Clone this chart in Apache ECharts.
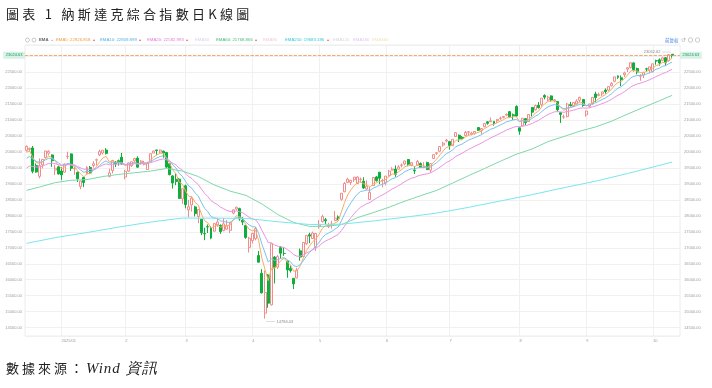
<!DOCTYPE html>
<html><head><meta charset="utf-8">
<script src="https://cdn.jsdelivr.net/npm/echarts@6/dist/echarts.min.js"></script>
<style>
html,body{margin:0;padding:0;background:#fff;}
#wrap{position:relative;width:712px;height:388px;overflow:hidden;background:#fff;}
#chart{position:absolute;left:0;top:0;width:712px;height:388px;}
.t{position:absolute;font-family:"Noto Sans CJK TC","Noto Sans CJK SC",serif;color:#222;white-space:nowrap;line-height:16px;}
#title{left:6px;top:6px;font-size:13px;letter-spacing:3.3px;}
#src{left:6px;top:360px;font-size:13px;letter-spacing:3px;}
#src i{font-family:"Liberation Serif","DejaVu Serif",serif;font-size:15px;letter-spacing:1px;}
</style></head>
<body><div id="wrap"><div id="chart"></div>
<div class="t" id="title">圖表 1 納斯達克綜合指數日K線圖</div>
<div class="t" id="src">數據來源：<i>Wind 資訊</i></div>
</div>
<script>
// ---- trading days (categories) ----
const tradingDays = {
 '2024/12': [16,17,18,19,20,23,24,26,27,30,31],
 '2025/01': [2,3,6,7,8,10,13,14,15,16,17,21,22,23,24,27,28,29,30,31],
 '2025/02': [3,4,5,6,7,10,11,12,13,14,18,19,20,21,24,25,26,27,28],
 '2025/03': [3,4,5,6,7,10,11,12,13,14,17,18,19,20,21,24,25,26,27,28,31],
 '2025/04': [1,2,3,4,7,8,9,10,11,14,15,16,17,21,22,23,24,25,28,29,30],
 '2025/05': [1,2,5,6,7,8,9,12,13,14,15,16,19,20,21,22,23,27,28,29,30],
 '2025/06': [2,3,4,5,6,9,10,11,12,13,16,17,18,20,23,24,25,26,27,30],
 '2025/07': [1,2,3,7,8,9,10,11,14,15,16,17,18,21,22,23,24,25,28,29,30,31],
 '2025/08': [1,4,5,6,7,8,11,12,13,14,15,18,19,20,21,22,25,26,27,28,29],
 '2025/09': [2,3,4,5,8,9,10,11,12,15,16,17,18,19,22,23,24,25,26,29,30],
 '2025/10': [1,2,3,6,7,8,9]
};
const xTickDates = ['2025/01/02','2025/02/03','2025/03/03','2025/04/01','2025/05/01','2025/06/02','2025/07/01','2025/08/01','2025/09/02','2025/10/01'];
const xTickLabels = ['2025/01','2','3','4','5','6','7','8','9','10'];
const padSlots = [' ', '  '];

// ---- OHLC ----
const openVals = [
 20047,20080,20125,19573,19235,19592,19821,19960,19905,19431,19533,
 19403,19367,19851,19938,19469,19361,18920,19201,19309,19513,19574,19741,19906,19967,20058,19234,19418,19680,19725,19832,
 19215,19398,19568,19720,19806,19651,19614,19450,19702,19963,20062,19992,20023,19983,19631,19248,19145,19148,18530,
 18938,18186,18340,18279,17980,17896,17450,17662,17622,17519,17716,17702,17536,17581,17547,18085,18212,18226,17863,17695,17013,
 17222,17286,16757,16202,14954,16146,15214,16711,16396,17004,16824,16579,16353,16044,16057,16904,16726,17124,17409,17291,17041,
 17661,17817,17880,17660,17738,17856,17964,18516,18752,19047,19044,19128,19009,19142,19084,18841,18513,18947,19217,19365,19107,
 19029,19260,19430,19462,19460,19580,19623,19761,19577,19425,19586,19636,19535,19668,19430,19796,19957,20020,20215,20343,
 20323,20194,20483,20520,20455,20510,20615,20550,20582,20763,20678,20787,20942,20946,20955,20981,21047,21082,21152,21260,21160,21423,
 20754,20813,21040,20946,21389,21317,21460,21475,21764,21627,21753,21597,21575,21228,21090,21105,21478,21442,21501,21620,21640,
 21162,21426,21518,21813,21767,21818,21935,21931,22068,22209,22377,22319,22418,22588,22640,22785,22609,22368,22405,22598,22557,
 22505,22854,22880,22867,22948,22856,23055
];
const closeVals = [
 20173.89,20109.06,19392.69,19372.77,19572.60,19764.89,20031.13,20020.36,19722.03,19486.79,19310.79,
 19280.79,19621.68,19864.98,19489.68,19478.88,19161.63,19088.10,19044.39,19511.23,19338.29,19630.20,19756.78,20009.34,20053.68,19954.30,19341.83,19733.59,19632.32,19681.75,19627.44,
 19391.96,19654.02,19692.33,19791.99,19523.40,19714.27,19643.86,19649.95,19945.64,20026.77,20041.26,20056.25,19962.36,19524.01,19286.93,19026.39,19075.26,18544.42,18847.28,
 18350.19,18285.16,18552.73,18069.26,18196.22,17468.32,17436.10,17648.45,17303.01,17754.09,17808.66,17504.12,17750.79,17691.63,17784.05,18188.59,18271.86,17899.01,17804.03,17322.99,17299.29,
 17449.89,17601.05,16550.61,15587.79,15603.26,15267.91,17124.97,16387.31,16724.46,16831.48,16823.17,16307.16,16286.45,15870.90,16300.42,16708.05,17166.04,17382.94,17366.13,17461.32,17446.34,
 17710.74,17977.73,17844.24,17689.66,17738.16,17928.14,17928.92,18708.34,19010.09,19146.81,19112.32,19211.10,19215.46,19142.71,18872.64,18925.74,18737.21,19199.16,19100.94,19175.87,19113.77,
 19242.61,19398.96,19460.49,19298.45,19529.95,19591.24,19714.99,19615.88,19662.49,19406.83,19701.21,19521.09,19546.27,19447.41,19630.97,19912.53,19973.55,20167.91,20273.46,20369.73,
 20202.89,20393.13,20601.10,20412.52,20418.46,20611.34,20630.67,20585.53,20640.33,20677.80,20730.49,20885.65,20895.66,20974.17,20892.69,21020.02,21057.96,21108.32,21178.58,21098.29,21129.67,21122.45,
 20650.13,21053.58,20916.55,21169.42,21242.70,21450.02,21385.40,21681.90,21713.14,21710.67,21622.98,21629.77,21314.95,21172.86,21100.31,21496.54,21449.29,21544.27,21590.14,21705.16,21455.55,
 21279.63,21497.73,21707.69,21700.39,21798.70,21879.49,21886.06,22043.07,22141.10,22348.75,22333.96,22261.33,22470.73,22631.48,22788.98,22573.47,22497.86,22384.70,22484.07,22591.15,22660.01,
 22755.16,22844.05,22780.51,22941.67,22788.36,23043.38,23024.63
];
const lowVals = [
 20010,20010,19330,19350,19172,19480,19797,19892,19535,19275,19285,
 19117,19356,19780,19403,19280,19058,18831,18900,19300,19302,19510,19575,19868,19920,19919,19205,19326,19525,19570,19593,
 19141,19373,19528,19673,19507,19602,19579,19442,19680,19962,19908,19950,19817,19493,19270,18853,18960,18541,18372,
 18234,17956,18133,17983,17768,17398,17238,17462,17268,17505,17658,17435,17518,17568,17461,18045,18173,17847,17711,17282,16854,
 17137,17232,16542,15575,14784.03,15124,15196,15883,16341,16660,16749,16062,16225,15708,16046,16596,16719,17089,17143,17275,16903,
 17599,17791,17745,17615,17600,17833,17858,18471,18740,19020,18966,19059,19002,19036,18843,18816,18493,18936,19070,18990,18892,
 18954,19226,19417,19220,19448,19516,19577,19564,19551,19308,19580,19506,19490,19431,19346,19779,19905,19988,20170,20294,
 20071,20184,20478,20309,20366,20491,20508,20517,20539,20656,20543,20770,20850,20930,20820,20905,21000,21050,21120,21072,21000,21099,
 20540,20808,20839,20935,21106,21294,21353,21419,21645,21589,21573,21553,21267,20906,21033,21079,21421,21402,21481,21558,21410,
 21102,21385,21467,21552,21741,21747,21822,21894,22045,22176,22283,22059,22345,22500,22611,22514,22427,22226,22313,22517,22459,
 22482,22728,22698,22836,22698,22820,22948
];
const highVals = [
 20204,20135,20184,19640,19798,19782,20031,20053,19922,19596,19553,
 19517,19638,20007,19951,19525,19383,19095,19210,19557,19560,19709,19789,20068,20054,20118,19470,19751,19716,19760,19969,
 19440,19670,19700,19800,19862,19741,19720,19691,19946,20045,20065,20073,20041,19990,19636,19270,19325,19186,18852,
 18977,18499,18617,18312,18200,17898,17627,17731,17679,17776,17912,17732,17931,17865,17791,18202,18281,18254,17960,17708,17346,
 17473,17653,16904,16331,16292,16178,17140,16738,16771,17057,17010,16600,16452,16046,16373,16975,17175,17392,17472,17508,17458,
 17863,18037,17934,17782,17847,18148,18013,18712,19058,19191,19120,19211,19231,19198,19209,19108,18902,19206,19249,19374,19158,
 19244,19437,19520,19577,19587,19637,19728,19779,19687,19546,19746,19671,19679,19694,19648,19934,19995,20187,20312,20408,
 20343,20397,20624,20547,20497,20655,20654,20632,20641,20770,20749,20908,20964,21077,20962,21021,21104,21110,21201,21282,21202,21457,
 20785,21054,21060,21172,21390,21479,21559,21682,21804,21761,21763,21653,21582,21236,21168,21530,21567,21550,21647,21729,21640,
 21290,21514,21708,21882,21855,21881,21987,22052,22183,22349,22389,22388,22510,22654,22805,22801,22636,22433,22508,22631,22662,
 22766,22886,22926,22980,22966,23050,23062.62
];

// ---- EMA lines ----
const ema5 = [
 19991,20030,19818,19670,19638,19680,19797,19871,19821,19710,19577,
 19478,19526,19639,19589,19552,19422,19311,19222,19318,19325,19427,19537,19694,19814,19861,19688,19703,19679,19680,19662,
 19572,19599,19630,19684,19630,19658,19653,19652,19750,19842,19908,19957,19959,19814,19638,19434,19314,19057,18987,
 18775,18612,18592,18418,18344,18052,17847,17781,17622,17666,17714,17644,17680,17684,17717,17874,18007,17971,17915,17718,17578,
 17535,17557,17222,16677,16319,15969,16354,16365,16485,16600,16674,16552,16463,16266,16277,16421,16669,16907,17060,17194,17278,
 17422,17607,17686,17687,17704,17779,17829,18122,18418,18661,18811,18944,19034,19070,19004,18978,18898,18998,19032,19080,19091,
 19142,19228,19305,19303,19379,19450,19538,19564,19597,19534,19590,19567,19560,19522,19558,19676,19775,19906,20028,20142,
 20162,20239,20360,20378,20391,20464,20520,20542,20575,20609,20649,20728,20784,20847,20862,20915,20963,21011,21067,21077,21095,21104,
 20953,20987,20964,21032,21102,21218,21274,21410,21511,21578,21593,21605,21508,21396,21297,21364,21392,21443,21492,21563,21527,
 21445,21463,21545,21597,21664,21736,21786,21872,21962,22091,22172,22202,22292,22405,22533,22546,22530,22482,22483,22519,22566,
 22629,22701,22728,22799,22795,22878,22927
];
const ema10 = [
 19803,19859,19774,19701,19678,19694,19755,19803,19788,19733,19656,
 19588,19594,19643,19615,19590,19512,19435,19364,19391,19381,19426,19486,19581,19667,19719,19650,19665,19659,19663,19656,
 19608,19616,19630,19659,19634,19649,19648,19648,19702,19761,19812,19856,19875,19811,19716,19590,19496,19323,19236,
 19075,18931,18862,18718,18623,18413,18235,18128,17978,17937,17914,17839,17823,17799,17796,17868,17941,17933,17910,17803,17711,
 17664,17653,17453,17114,16839,16553,16657,16608,16629,16666,16695,16624,16563,16437,16412,16466,16593,16737,16851,16962,17050,
 17170,17317,17413,17463,17513,17588,17650,17842,18054,18253,18409,18555,18675,18760,18781,18807,18794,18868,18910,18958,18986,
 19033,19100,19165,19189,19251,19313,19386,19428,19471,19459,19503,19506,19513,19501,19525,19596,19665,19757,19851,19945,
 19992,20065,20163,20208,20246,20312,20370,20409,20451,20492,20535,20599,20653,20711,20744,20794,20842,20890,20943,20971,21000,21022,
 20954,20972,20962,21000,21044,21118,21167,21261,21343,21410,21449,21482,21452,21401,21346,21373,21387,21416,21448,21495,21488,
 21450,21459,21504,21540,21587,21640,21685,21750,21821,21917,21993,22042,22120,22213,22318,22364,22388,22388,22405,22439,22479,
 22529,22586,22621,22679,22699,22762,22810
];
const ema20 = [
 19501,19559,19543,19527,19531,19553,19599,19639,19647,19632,19601,
 19571,19576,19604,19593,19582,19542,19499,19456,19461,19449,19466,19494,19543,19592,19626,19599,19612,19614,19620,19621,
 19599,19604,19612,19629,19619,19628,19630,19632,19662,19697,19730,19761,19780,19756,19711,19646,19592,19492,19431,
 19328,19229,19165,19061,18979,18835,18702,18602,18478,18409,18352,18271,18221,18171,18134,18139,18152,18128,18097,18023,17954,
 17906,17877,17751,17545,17360,17161,17158,17085,17051,17030,17010,16943,16880,16784,16738,16735,16776,16834,16885,16940,16988,
 17057,17145,17212,17258,17304,17363,17417,17540,17680,17820,17943,18064,18174,18266,18324,18381,18415,18490,18548,18608,18656,
 18712,18777,18842,18885,18946,19007,19074,19126,19177,19199,19247,19273,19299,19313,19343,19397,19452,19520,19592,19666,
 19717,19781,19859,19912,19960,20022,20080,20128,20177,20225,20273,20331,20385,20441,20484,20535,20585,20635,20687,20726,20764,20798,
 20784,20810,20820,20853,20890,20943,20985,21051,21114,21171,21214,21254,21260,21252,21238,21263,21281,21306,21333,21368,21376,
 21367,21379,21410,21438,21472,21511,21547,21594,21646,21713,21772,21819,21881,21952,22032,22084,22123,22148,22180,22219,22261,
 22308,22359,22399,22451,22483,22536,22583
];
// [trading-day index, value]
const ema60 = [[0,18797],[4,18900],[9,19039],[14,19112],[19,19134],[24,19230],[29,19297],[34,19348],[39,19401],[44,19481],[49,19400],[54,19230],[59,18968],[64,18774],[69,18639],[74,18372],[79,18042],[84,17793],[89,17669],[94,17672],[99,17722],[104,17940],[109,18099],[114,18269],[119,18461],[124,18633],[129,18797],[134,19025],[139,19257],[144,19479],[149,19708],[154,19926],[159,20092],[164,20322],[169,20483],[174,20648],[179,20783],[184,20962],[189,21184],[194,21393],[199,21598],[203,21769]];
const ema250 = [[0,17139],[9,17318],[19,17477],[29,17649],[39,17804],[49,17930],[59,17928],[69,17919],[79,17815],[89,17729],[99,17738],[109,17839],[119,17956],[129,18086],[139,18265],[149,18463],[159,18663],[169,18880],[179,19085],[189,19323],[199,19577],[203,19683]];

const legendNames = ['EMA5','EMA10','EMA20','EMA30','EMA60','EMA90','EMA250','EMA120','EMA180','EMA360'];
const legendValues = ['22926.858','22809.899','22582.993','','21768.866','','19683.186','','',''];
const yTickMin = 14500, yTickMax = 22500;

// ---- build ----
const dates = [];
Object.keys(tradingDays).forEach(m => tradingDays[m].forEach(d => dates.push(m + '/' + (d < 10 ? '0' + d : d))));
const categories = dates.concat(padSlots);
const ohlc = dates.map((d, i) => [openVals[i], closeVals[i], lowVals[i], highVals[i]]);
const lastClose = closeVals[closeVals.length - 1];

const UP = '#f08c8c', DOWN = '#0fae3c';
const C5 = '#f7ad63', C10 = '#79c3ee', C20 = '#eb93e2', C60 = '#7fd8a9', C250 = '#7ae6ef';
const FONT = 'Liberation Sans, Arial, sans-serif';

const yLabelFmt = v => (v >= yTickMin && v <= yTickMax && Math.abs(v % 500) < 1e-6) ? v.toFixed(2) : '';
const yCommon = {
  type: 'value', min: 14240, max: 23345, minInterval: 500, maxInterval: 500, splitNumber: 18,
  axisLine: {show: false}, axisTick: {show: false}
};

const lineSeries = (name, data, color) => ({
  name, type: 'line', data, symbol: 'none', showSymbol: false, smooth: false,
  lineStyle: {width: 1, color}, itemStyle: {color}, silent: true, z: 3, animation: false
});

const legendItems = [];
const legendX = [56, 100, 147, 195, 216, 263, 285, 333, 353, 372];
const legendTextColors = ['#f39a3f', '#4fb1e8', '#e27ad8', '#d8d0f3', '#3fbf77', '#f5cbd3', '#2ccbd8', '#d6d6d6', '#dcc9f2', '#f3e1b0'];
legendNames.forEach((n, i) => {
  const txt = legendValues[i] ? n + ': ' + legendValues[i] : n;
  legendItems.push({type: 'text', x: legendX[i], y: 40, silent: true,
    style: {text: txt, fill: legendTextColors[i], fontSize: 4.3, fontFamily: FONT, verticalAlign: 'middle'}});
  if (legendValues[i]) {
    legendItems.push({type: 'text', x: legendX[i] + (txt.length * 2.33) + 2, y: 40, silent: true,
      style: {text: '▴', fill: '#f06060', fontSize: 4, fontFamily: FONT, verticalAlign: 'middle'}});
  }
});

const graphics = [
  {type: 'circle', shape: {cx: 27.5, cy: 40, r: 2}, style: {fill: 'none', stroke: '#aaa', lineWidth: 0.6}, silent: true},
  {type: 'circle', shape: {cx: 34, cy: 40, r: 2}, style: {fill: 'none', stroke: '#aaa', lineWidth: 0.6}, silent: true},
  {type: 'text', x: 39, y: 40, silent: true, style: {text: 'EMA', fill: '#666', fontSize: 4.3, fontFamily: FONT, verticalAlign: 'middle', fontWeight: 'bold'}},
  {type: 'text', x: 50, y: 40, silent: true, style: {text: '⌄', fill: '#888', fontSize: 5, fontFamily: FONT, verticalAlign: 'middle'}},
  {type: 'text', x: 665, y: 40, silent: true, style: {text: '前复权', fill: '#3d7ee6', fontSize: 4.5, fontFamily: 'Noto Sans CJK SC', verticalAlign: 'middle'}},
  {type: 'text', x: 681, y: 40, silent: true, style: {text: '↺', fill: '#aaa', fontSize: 6, fontFamily: 'DejaVu Sans', verticalAlign: 'middle'}},
  {type: 'circle', shape: {cx: 690.5, cy: 40, r: 2.2}, style: {fill: 'none', stroke: '#aaa', lineWidth: 0.6}, silent: true},
  {type: 'circle', shape: {cx: 697.5, cy: 40, r: 2.2}, style: {fill: 'none', stroke: '#aaa', lineWidth: 0.6}, silent: true}
].concat(legendItems);

const chart = echarts.init(document.getElementById('chart'), null, {renderer: 'canvas'});
chart.setOption({
  animation: false,
  backgroundColor: '#fff',
  textStyle: {fontFamily: FONT},
  grid: {left: 25, right: 32, top: 45, bottom: 52, show: true, borderColor: '#ececec', borderWidth: 1, backgroundColor: 'transparent'},
  xAxis: {
    type: 'category', data: categories, boundaryGap: true,
    axisLine: {show: false}, axisTick: {show: false},
    axisLabel: {
      interval: (idx, val) => xTickDates.indexOf(val) >= 0,
      formatter: val => { const k = xTickDates.indexOf(val); return k >= 0 ? xTickLabels[k] : ''; },
      fontSize: 4, color: '#9a9a9a', align: 'left', margin: 3
    },
    splitLine: {show: true, alignWithLabel: true, lineStyle: {color: '#f0f0f0', width: 1}}
  },
  yAxis: [
    Object.assign({}, yCommon, {position: 'right',
      splitLine: {show: true, lineStyle: {color: '#f0f0f0', width: 1}},
      axisLabel: {fontSize: 4, color: '#9a9a9a', margin: 4, formatter: yLabelFmt, showMinLabel: false}}),
    Object.assign({}, yCommon, {position: 'left',
      splitLine: {show: false},
      axisLabel: {fontSize: 4, color: '#9a9a9a', margin: 3, formatter: yLabelFmt, showMinLabel: false}})
  ],
  graphic: graphics,
  series: [
    {
      name: 'K', type: 'candlestick', data: ohlc, barWidth: '78%', z: 2,
      itemStyle: {color: '#ffffff', color0: DOWN, borderColor: UP, borderColor0: DOWN, borderWidth: 1},
      markLine: {
        silent: true, symbol: ['none', 'none'], animation: false,
        lineStyle: {type: 'dashed', color: '#f4a46c', width: 0.8},
        data: [
          {yAxis: lastClose, label: {position: 'start', distance: 0}},
          {yAxis: lastClose, label: {position: 'end', distance: 0}}
        ],
        label: {show: true, formatter: () => lastClose.toFixed(2), fontSize: 4, color: '#1f9a5a',
          backgroundColor: '#d6f1e6', padding: [1.5, 2.5, 1.5, 2.5]}
      },
      markPoint: {
        silent: true, symbol: 'circle', symbolSize: 0.1, animation: false,
        itemStyle: {color: 'rgba(0,0,0,0)'},
        data: [
          {type: 'max', valueDim: 'highest', label: {position: 'left', distance: 1, offset: [0, -2],
            formatter: p => '{v|' + p.value.toFixed(2) + '}{g|}{l|}'}},
          {type: 'min', valueDim: 'lowest', label: {position: 'right', distance: 1, offset: [0, 3],
            formatter: p => '{l|}{g|}{v|' + p.value.toFixed(2) + '}'}}
        ],
        label: {show: true, rich: {
          v: {fontSize: 4, color: '#888', fontFamily: FONT},
          g: {width: 1.5},
          l: {width: 9, height: 0.6, backgroundColor: '#c8c8c8'}
        }}
      }
    },
    lineSeries('EMA5', ema5, C5),
    lineSeries('EMA10', ema10, C10),
    lineSeries('EMA20', ema20, C20),
    lineSeries('EMA60', ema60, C60),
    lineSeries('EMA250', ema250, C250)
  ]
});
</script></body></html>
